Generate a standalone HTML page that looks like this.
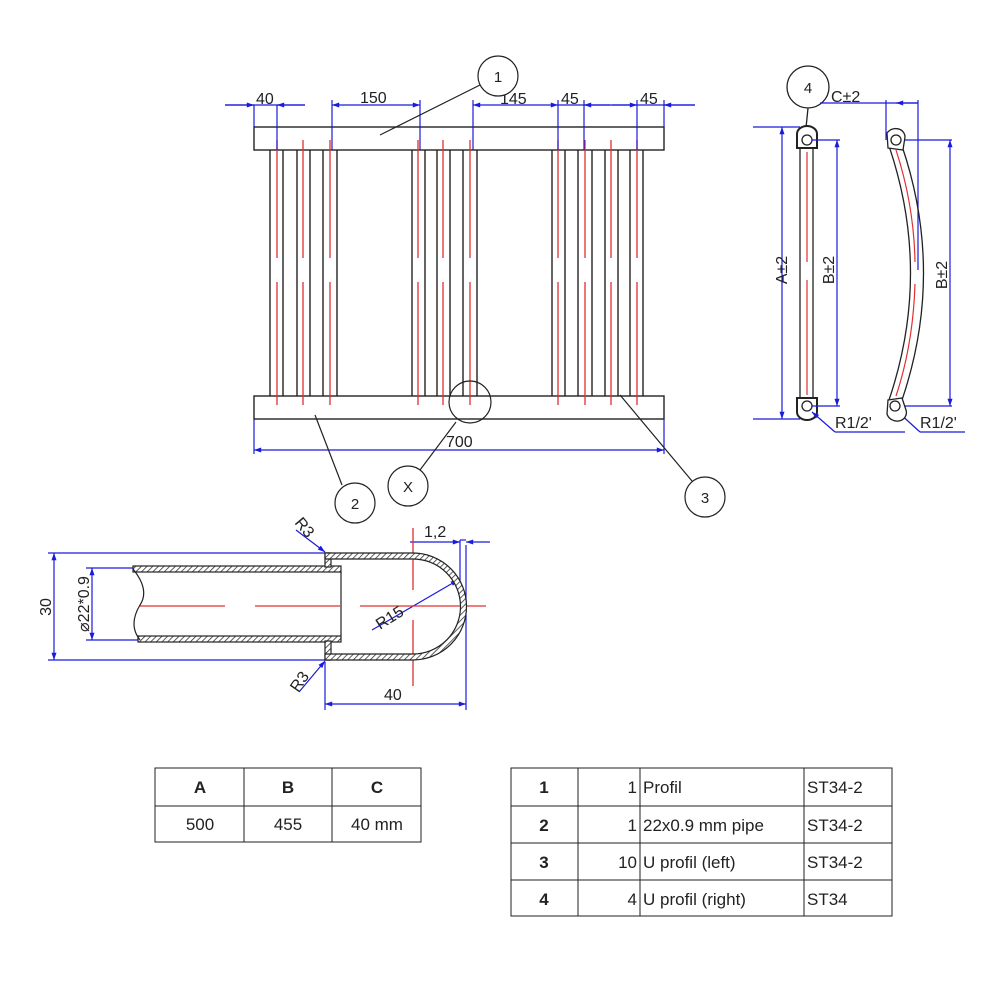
<!DOCTYPE html>
<html><head><meta charset="utf-8"><style>
html,body{margin:0;padding:0;background:#fff;}
svg{display:block;font-family:"Liberation Sans",sans-serif;}
</style></head><body>
<svg width="1000" height="1000" viewBox="0 0 1000 1000" xmlns="http://www.w3.org/2000/svg">
<defs>
<marker id="ar" viewBox="0 0 10 10" refX="10" refY="5" markerWidth="9" markerHeight="6" orient="auto-start-reverse"><path d="M0,1.5 L10,5 L0,8.5 z" fill="#1a1adc"/></marker>
<pattern id="hatch" width="4" height="4" patternUnits="userSpaceOnUse" patternTransform="rotate(45)"><rect width="4" height="4" fill="#fff"/><line x1="0" y1="0" x2="0" y2="4" stroke="#333" stroke-width="1.6"/></pattern>
</defs>
<rect width="1000" height="1000" fill="#fff"/>

<!-- FRONT VIEW -->
<g stroke="#222" stroke-width="1.4" fill="none">
<rect x="254" y="127" width="410" height="23"/>
<rect x="254" y="396" width="410" height="23"/>
</g>
<g stroke="#222" stroke-width="1.4">
<line x1="270" y1="150" x2="270" y2="396"/><line x1="283" y1="150" x2="283" y2="396"/>
<line x1="297" y1="150" x2="297" y2="396"/><line x1="310" y1="150" x2="310" y2="396"/>
<line x1="323" y1="150" x2="323" y2="396"/><line x1="337" y1="150" x2="337" y2="396"/>
<line x1="412" y1="150" x2="412" y2="396"/><line x1="425" y1="150" x2="425" y2="396"/>
<line x1="437" y1="150" x2="437" y2="396"/><line x1="450" y1="150" x2="450" y2="396"/>
<line x1="463" y1="150" x2="463" y2="396"/><line x1="477" y1="150" x2="477" y2="396"/>
<line x1="552" y1="150" x2="552" y2="396"/><line x1="565" y1="150" x2="565" y2="396"/>
<line x1="578" y1="150" x2="578" y2="396"/><line x1="592" y1="150" x2="592" y2="396"/>
<line x1="605" y1="150" x2="605" y2="396"/><line x1="618" y1="150" x2="618" y2="396"/>
<line x1="630" y1="150" x2="630" y2="396"/><line x1="643" y1="150" x2="643" y2="396"/>
</g>
<g stroke="#e03030" stroke-width="1.3">
<path d="M277 140V258M277 282V405 M303 140V258M303 282V405 M330 140V258M330 282V405 M418 140V258M418 282V405 M443 140V258M443 282V405 M470 140V258M470 282V405 M558 140V258M558 282V405 M585 140V258M585 282V405 M611 140V258M611 282V405 M637 140V258M637 282V405"/>
</g>
<g stroke="#1a1adc" stroke-width="1.2" fill="none">
<line x1="225" y1="105" x2="305" y2="105"/>
<line x1="254" y1="105" x2="254" y2="127"/>
<line x1="277" y1="105" x2="277" y2="150"/>
<line x1="332" y1="105" x2="420" y2="105" marker-start="url(#ar)" marker-end="url(#ar)"/>
<line x1="332" y1="100" x2="332" y2="150"/>
<line x1="420" y1="100" x2="420" y2="150"/>
<line x1="473" y1="105" x2="558" y2="105" marker-start="url(#ar)" marker-end="url(#ar)"/>
<line x1="473" y1="100" x2="473" y2="150"/>
<line x1="558" y1="100" x2="558" y2="150"/>
<line x1="558" y1="105" x2="695" y2="105"/>
<line x1="584" y1="100" x2="584" y2="150"/>
<line x1="637" y1="100" x2="637" y2="150"/>
<line x1="664" y1="100" x2="664" y2="127"/>
<line x1="225" y1="105" x2="254" y2="105" marker-end="url(#ar)"/>
<line x1="305" y1="105" x2="277" y2="105" marker-end="url(#ar)"/>
<line x1="610" y1="105" x2="584" y2="105" marker-end="url(#ar)"/>
<line x1="612" y1="105" x2="637" y2="105" marker-end="url(#ar)"/>
<line x1="695" y1="105" x2="664" y2="105" marker-end="url(#ar)"/>
<line x1="254" y1="419" x2="254" y2="454"/>
<line x1="664" y1="419" x2="664" y2="454"/>
<line x1="254" y1="450" x2="664" y2="450" marker-start="url(#ar)" marker-end="url(#ar)"/>
</g>
<g font-size="16" fill="#222">
<text x="256" y="104">40</text>
<text x="360" y="103">150</text>
<text x="500" y="104">145</text>
<text x="561" y="104">45</text>
<text x="640" y="104">45</text>
<text x="446" y="447">700</text>
</g>
<g stroke="#222" stroke-width="1.2" fill="#fff">
<line x1="480" y1="85" x2="380" y2="135"/>
<circle cx="498" cy="76" r="20"/>
<line x1="342" y1="485" x2="315" y2="415"/>
<circle cx="355" cy="503" r="20"/>
<line x1="420" y1="470" x2="456" y2="422"/>
<circle cx="408" cy="486" r="20"/>
<line x1="692" y1="481" x2="620" y2="395"/>
<circle cx="705" cy="497" r="20"/>
<circle cx="470" cy="402" r="21" fill="none"/>
</g>
<g font-size="15" fill="#222" text-anchor="middle">
<text x="498" y="82">1</text><text x="355" y="509">2</text><text x="408" y="492">X</text><text x="705" y="503">3</text>
</g>

<!-- SIDE VIEW 1 -->
<g stroke="#222" stroke-width="1.3" fill="#fff">
<line x1="808" y1="108" x2="806" y2="128"/>
<line x1="800" y1="148" x2="800" y2="398"/>
<line x1="813" y1="148" x2="813" y2="398"/>
<path d="M797 148 V134 a10 8 0 0 1 20 0 V148 Z" stroke-width="2"/>
<circle cx="807" cy="140" r="5"/>
<path d="M797 398 V412 a10 8 0 0 0 20 0 V398 Z" stroke-width="2"/>
<circle cx="807" cy="406" r="5"/>
<circle cx="808" cy="87" r="21"/>
</g>
<path d="M807 152V262M807 280V395" stroke="#e03030" stroke-width="1.2"/>
<text x="808" y="93" font-size="15" text-anchor="middle" fill="#222">4</text>
<g stroke="#1a1adc" stroke-width="1.2" fill="none">
<line x1="753" y1="127" x2="800" y2="127"/>
<line x1="753" y1="419" x2="800" y2="419"/>
<line x1="782" y1="127" x2="782" y2="419" marker-start="url(#ar)" marker-end="url(#ar)"/>
<line x1="812" y1="140" x2="840" y2="140"/>
<line x1="812" y1="406" x2="840" y2="406"/>
<line x1="837" y1="140" x2="837" y2="406" marker-start="url(#ar)" marker-end="url(#ar)"/>
<polyline points="835,432 905,432"/>
<line x1="835" y1="432" x2="812" y2="412" marker-end="url(#ar)"/>
<line x1="820" y1="103" x2="918" y2="103"/>
<line x1="896" y1="103" x2="918" y2="103" marker-start="url(#ar)"/>
<line x1="886" y1="100" x2="886" y2="140"/>
<line x1="918" y1="100" x2="918" y2="270"/>
<line x1="900" y1="140" x2="952" y2="140"/>
<line x1="900" y1="406" x2="952" y2="406"/>
<line x1="950" y1="140" x2="950" y2="406" marker-start="url(#ar)" marker-end="url(#ar)"/>
<polyline points="920,432 965,432"/>
<line x1="920" y1="432" x2="898" y2="412" marker-end="url(#ar)"/>
</g>
<g font-size="16" fill="#222">
<text transform="translate(787,270) rotate(-90)" text-anchor="middle">A±2</text>
<text transform="translate(834,270) rotate(-90)" text-anchor="middle">B±2</text>
<text transform="translate(947,275) rotate(-90)" text-anchor="middle">B±2</text>
<text x="831" y="102">C±2</text>
<text x="835" y="428">R1/2'</text>
<text x="920" y="428">R1/2'</text>
</g>
<!-- SIDE VIEW 2 curved -->
<g stroke="#222" stroke-width="1.3" fill="none">
<path d="M889 146 Q932 273 889 400"/>
<path d="M902 146 Q945 273 902 400"/>
<path d="M887 133 a10 9 -20 0 1 18 4 L903 150 L888 148 Z" fill="#fff"/>
<circle cx="896" cy="140" r="5"/>
<path d="M888 400 L902 398 L906 410 a10 9 20 0 1 -19 4 Z" fill="#fff"/>
<circle cx="895" cy="406" r="5"/>
</g>
<path d="M896 150 Q914 205 915 262 M915 284 Q913 345 896 396" stroke="#e03030" stroke-width="1.2" fill="none"/>

<!-- DETAIL SECTION -->
<g stroke="#1a1adc" stroke-width="1.2" fill="none">
<line x1="48" y1="553" x2="330" y2="553"/>
<line x1="48" y1="660" x2="330" y2="660"/>
<line x1="54" y1="553" x2="54" y2="660" marker-start="url(#ar)" marker-end="url(#ar)"/>
<line x1="86" y1="568" x2="135" y2="568"/>
<line x1="86" y1="640" x2="140" y2="640"/>
<line x1="92" y1="568" x2="92" y2="640" marker-start="url(#ar)" marker-end="url(#ar)"/>
<line x1="296" y1="530" x2="325" y2="552" marker-end="url(#ar)"/>
<line x1="299" y1="692" x2="325" y2="661" marker-end="url(#ar)"/>
<line x1="325" y1="662" x2="325" y2="710"/>
<line x1="466" y1="545" x2="466" y2="710"/>
<line x1="460" y1="540" x2="466" y2="540"/>
<line x1="410" y1="542" x2="460" y2="542" marker-end="url(#ar)"/>
<line x1="490" y1="542" x2="466" y2="542" marker-end="url(#ar)"/>
<line x1="460" y1="540" x2="460" y2="590"/>
<line x1="325" y1="704" x2="466" y2="704" marker-start="url(#ar)" marker-end="url(#ar)"/>
<line x1="372" y1="630" x2="458" y2="580" marker-end="url(#ar)"/>
</g>
<g stroke="#e03030" stroke-width="1.3">
<path d="M140 606H225M255 606H340M360 606H486M413 528V590M413 620V686"/>
</g>
<g stroke="#222" stroke-width="1.2">
<rect x="133" y="566" width="208" height="6" fill="url(#hatch)"/>
<rect x="138" y="636" width="203" height="6" fill="url(#hatch)"/>
<path d="M133 569 Q150 590 140 605 Q128 625 140 640" fill="none"/>
<line x1="341" y1="572" x2="341" y2="636"/>
<rect x="325" y="553" width="6" height="14" fill="url(#hatch)"/>
<rect x="325" y="641" width="6" height="19" fill="url(#hatch)"/>
<path d="M325 553 H413 A53 53 0 0 1 413 660 H325 V654 H413 A47 47 0 0 0 413 559 H325 Z" fill="url(#hatch)"/>
</g>
<g font-size="16" fill="#222">
<text transform="translate(51,607) rotate(-90)" text-anchor="middle">30</text>
<text transform="translate(89,604) rotate(-90)" text-anchor="middle">⌀22*0.9</text>
<text transform="translate(294,523) rotate(50)">R3</text>
<text transform="translate(298,693) rotate(-55)">R3</text>
<text transform="translate(380,630) rotate(-32)">R15</text>
<text x="424" y="537">1,2</text>
<text x="384" y="700">40</text>
</g>

<!-- TABLES -->
<g stroke="#222" stroke-width="1" fill="none">
<rect x="155" y="768" width="266" height="74"/>
<line x1="155" y1="806" x2="421" y2="806"/>
<line x1="244" y1="768" x2="244" y2="842"/>
<line x1="332" y1="768" x2="332" y2="842"/>
<rect x="511" y="768" width="381" height="148"/>
<line x1="511" y1="806" x2="892" y2="806"/>
<line x1="511" y1="843" x2="892" y2="843"/>
<line x1="511" y1="880" x2="892" y2="880"/>
<line x1="578" y1="768" x2="578" y2="916"/>
<line x1="640" y1="768" x2="640" y2="916"/>
<line x1="804" y1="768" x2="804" y2="916"/>
</g>
<g font-size="17" fill="#222">
<g font-weight="bold" text-anchor="middle">
<text x="200" y="793">A</text><text x="288" y="793">B</text><text x="377" y="793">C</text>
<text x="544" y="793">1</text><text x="544" y="831">2</text><text x="544" y="868">3</text><text x="544" y="905">4</text>
</g>
<g text-anchor="middle">
<text x="200" y="830">500</text><text x="288" y="830">455</text><text x="377" y="830">40 mm</text>
</g>
<g text-anchor="end">
<text x="637" y="793">1</text><text x="637" y="831">1</text><text x="637" y="868">10</text><text x="637" y="905">4</text>
</g>
<text x="643" y="793">Profil</text><text x="643" y="831">22x0.9 mm pipe</text><text x="643" y="868">U profil (left)</text><text x="643" y="905">U profil (right)</text>
<text x="807" y="793">ST34-2</text><text x="807" y="831">ST34-2</text><text x="807" y="868">ST34-2</text><text x="807" y="905">ST34</text>
</g>
</svg>
</body></html>
